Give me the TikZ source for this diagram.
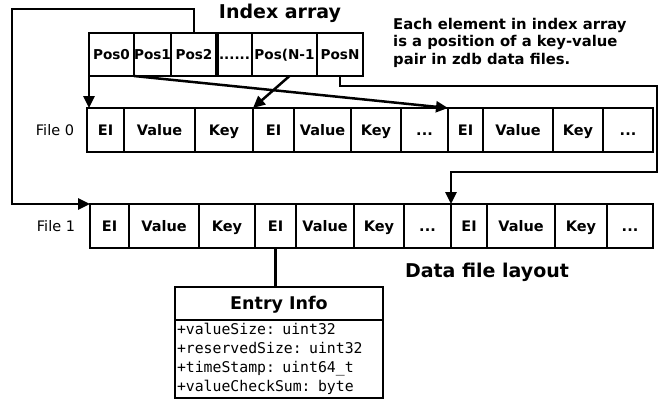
\documentclass[tikz,border=0pt]{standalone}
\usepackage{fontspec}
\setmainfont{DejaVu Sans}
\setmonofont{DejaVu Sans Mono}
\usetikzlibrary{arrows.meta}

\newcommand{\threedots}{...}
\newcommand{\sixdots}{......}

\tikzset{
  cell/.style={draw, line width=2.5pt, inner sep=0pt, outer sep=0pt, anchor=north west,
    minimum height=44pt, text height=10.6pt, text depth=0pt,
    font=\bfseries\fontsize{14.5}{16}\selectfont},
  link/.style={line width=2.5pt, -{Triangle[length=12pt,width=11pt]}},
  plain/.style={line width=2.5pt},
  title/.style={font=\bfseries\fontsize{19}{21}\selectfont},
  label/.style={font=\fontsize{14.5}{16}\selectfont},
}

\begin{document}
\begin{tikzpicture}[x=1pt, y=-1pt]
	\useasboundingbox (0,0) rectangle (661,402);
	% index array
	\node[title] (ititle) at (280,13) {Index array};
	\foreach \name/\x/\w/\txt in {i0/89/45/Pos0, i1/134/37/Pos1, i2/171/46/Pos2,
	    i3/217/35/\sixdots, i4/252/65/Pos(N-1, i5/317/46/PosN}
		\node[cell, minimum width=\w pt, minimum height=43pt, text height=10pt,
		    font=\bfseries\fontsize{13.6}{16}\selectfont] (\name) at (\x,33) {\txt};
	\draw[line width=3.5pt] (i3.north west) -- (i3.south west);
	\node[anchor=north west, align=left, inner sep=0pt,
	    font=\bfseries\fontsize{14.8}{17.5}\selectfont] (note) at (393,18)
	    {Each element in index array\\is a position of a key-value\\pair in zdb data files.};
	% data file 0
	\node[label] (f0) at (55,130) {File 0};
	\foreach \name/\x/\w/\txt in {a0/87/37/EI, a1/124/71/Value, a2/195/58/Key,
	    a3/253/41/EI, a4/294/57/Value, a5/351/50/Key, a6/401/47/\threedots, a7/448/35/EI,
	    a8/483/70/Value, a9/553/50/Key, a10/603/50/\threedots}
		\node[cell, minimum width=\w pt] (\name) at (\x,108) {\txt};
	% data file 1
	\node[label] (f1) at (56,226) {File 1};
	\foreach \name/\x/\w/\txt in {b0/90/39/EI, b1/129/70/Value, b2/199/56/Key,
	    b3/255/41/EI, b4/296/58/Value, b5/354/50/Key, b6/404/47/\threedots, b7/451/36/EI,
	    b8/487/68/Value, b9/555/52/Key, b10/607/46/\threedots}
		\node[cell, minimum width=\w pt] (\name) at (\x,204) {\txt};
	\node[title] (dtitle) at (487,272) {Data file layout};
	% entry info
	\node[cell, minimum width=208pt, minimum height=33pt, text height=12.8pt, text depth=0pt,
	    font=\bfseries\fontsize{17.5}{19}\selectfont] (infohead) at (175,287) {Entry Info};
	\node[draw, line width=2.5pt, outer sep=0pt, anchor=north west, minimum width=208pt,
	    minimum height=78pt, inner xsep=2pt, inner ysep=1pt, align=left,
	    text width=204pt, font=\ttfamily\fontsize{14.8}{19}\selectfont]
	    (infobody) at (infohead.south west)
	    {+valueSize: uint32\\+reservedSize: uint32\\+timeStamp: uint64\_t\\+valueCheckSum: byte};
	% pointers
	\coordinate (top) at (12,9);
	\coordinate (r0) at (657,86);
	\coordinate (r1) at (657,172);
	\draw[link] (i0.south west) -- (i0.south west |- a0.north);
	\draw[link] (i1.south west) -- (a7.north west);
	\draw[link] ([xshift=5pt]i4.south) -- (a3.north west);
	\draw[link] (i5.south) |- (r0) -- (r1) -| (b7.north west);
	\draw[link] (i2.north) |- (top) |- (b0.north west);
	\draw[plain] (b3.south) -- (b3.south |- infohead.north);
\end{tikzpicture}
\end{document}
